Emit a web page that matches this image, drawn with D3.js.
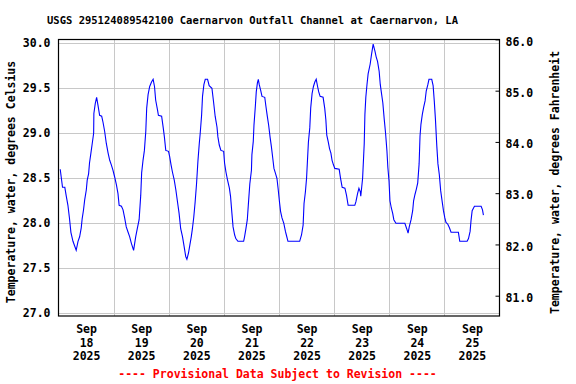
<!DOCTYPE html>
<html><head><meta charset="utf-8">
<script src="https://cdn.jsdelivr.net/npm/d3@7"></script>
<style>body{margin:0;background:#fff}svg{display:block}</style>
</head><body><svg id="c" width="576" height="384"></svg>
<script>
const titleText = "USGS 295124089542100 Caernarvon Outfall Channel at Caernarvon, LA";
const footerText = "---- Provisional Data Subject to Revision ----";
const leftAxisTitle = "Temperature, water, degrees Celsius";
const rightAxisTitle = "Temperature, water, degrees Fahrenheit";
const startDate = new Date(2025, 8, 18, 0, 0);
const endDate = new Date(2025, 8, 26, 0, 0);
const hoursFromStart = [0.75,1.25,1.75,2.75,3.4,4.1,4.8,5.4,6.3,7.0,7.7,8.5,9.2,9.9,10.3,10.9,11.4,12.1,12.5,13.1,13.5,14.0,14.7,15.3,15.4,16.0,16.6,17.2,17.9,18.8,19.4,20.1,20.8,21.6,22.3,23.0,23.7,24.4,25.2,25.9,26.4,27.4,28.1,28.8,29.5,30.3,31.0,31.7,32.7,33.6,34.3,35.1,35.8,36.2,36.8,37.4,38.0,38.4,39.0,39.7,40.5,41.2,41.8,42.3,43.1,43.5,44.9,45.6,46.1,46.7,47.9,48.4,49.0,49.6,50.4,51.1,51.8,52.5,53.2,54.0,54.7,55.4,55.9,56.6,57.2,57.8,58.3,58.9,59.5,60.1,60.7,61.3,61.7,62.3,62.7,63.3,63.9,64.9,65.6,66.8,67.5,68.2,69.0,69.4,70.0,70.7,71.9,72.3,72.9,73.6,74.4,74.9,75.5,76.0,76.7,77.2,78.1,80.6,81.0,81.6,82.2,82.8,83.3,84.0,84.2,84.8,85.1,85.7,86.1,86.6,87.0,87.4,88.0,88.6,89.8,90.3,90.9,91.5,92.1,92.7,93.3,93.8,94.4,95.1,95.6,96.2,96.7,97.3,98.1,98.8,99.2,99.9,105.0,105.8,106.5,106.9,107.5,108.0,108.4,108.8,109.4,109.8,110.4,111.0,111.6,112.2,112.8,113.3,113.9,115.2,115.9,116.4,116.8,117.4,118.0,118.6,119.1,119.7,120.3,122.2,122.8,123.5,124.7,125.4,126.1,129.0,129.5,130.2,130.8,131.4,131.6,132.4,133.1,133.4,133.8,134.3,134.8,135.7,136.3,137.0,137.8,138.3,138.9,139.6,140.1,140.7,141.2,141.8,142.4,143.0,143.4,143.9,144.3,144.9,145.5,146.0,146.9,150.8,151.6,152.2,152.7,153.5,154.2,154.6,155.2,155.8,156.4,157.0,157.4,157.8,158.4,159.0,159.6,160.1,160.8,161.3,162.5,163.1,163.6,164.1,164.7,165.2,165.8,166.4,167.0,167.6,168.2,168.7,169.5,170.2,170.9,174.1,174.7,177.9,178.5,179.2,179.6,180.1,180.7,181.1,184.0,184.6,185.0];
const tempC = [28.6,28.5,28.4,28.4,28.3,28.2,28.05,27.9,27.8,27.75,27.7,27.8,27.85,27.95,28.05,28.15,28.26,28.37,28.48,28.55,28.67,28.76,28.89,29.0,29.22,29.33,29.4,29.31,29.2,29.19,29.12,29.02,28.89,28.78,28.7,28.65,28.59,28.52,28.43,28.33,28.2,28.19,28.15,28.06,27.96,27.9,27.85,27.78,27.7,27.85,27.94,28.04,28.31,28.56,28.7,28.81,29.02,29.28,29.43,29.52,29.57,29.6,29.52,29.37,29.26,29.2,29.19,29.06,28.96,28.81,28.8,28.74,28.65,28.57,28.48,28.37,28.24,28.11,27.94,27.85,27.74,27.63,27.6,27.67,27.76,27.85,27.94,28.07,28.24,28.44,28.69,28.89,29.0,29.2,29.41,29.54,29.6,29.6,29.53,29.5,29.35,29.19,29.07,28.96,28.87,28.81,28.8,28.67,28.57,28.48,28.39,28.3,28.11,27.96,27.87,27.83,27.8,27.8,27.85,27.94,28.04,28.26,28.44,28.59,28.76,28.91,29.09,29.3,29.46,29.56,29.6,29.54,29.48,29.41,29.4,29.3,29.19,29.09,28.96,28.85,28.72,28.61,28.56,28.5,28.39,28.24,28.13,28.06,28.0,27.91,27.87,27.8,27.8,27.87,27.98,28.22,28.35,28.5,28.7,28.9,29.06,29.28,29.44,29.52,29.57,29.6,29.52,29.46,29.41,29.4,29.28,29.15,28.98,28.91,28.83,28.78,28.7,28.65,28.61,28.6,28.5,28.4,28.39,28.31,28.2,28.2,28.24,28.33,28.39,28.35,28.3,28.5,28.88,29.21,29.4,29.54,29.66,29.77,29.88,29.99,29.91,29.85,29.8,29.69,29.54,29.43,29.34,29.16,29.0,28.8,28.62,28.47,28.25,28.17,28.11,28.04,28.0,28.0,27.94,27.89,27.96,28.04,28.14,28.25,28.32,28.38,28.45,28.66,28.97,29.1,29.21,29.29,29.36,29.47,29.54,29.6,29.6,29.53,29.36,29.16,28.86,28.66,28.54,28.36,28.25,28.14,28.06,28.01,27.99,27.95,27.9,27.9,27.8,27.8,27.83,27.91,28.03,28.14,28.17,28.19,28.19,28.15,28.09];
const leftTicks = [27.0, 27.5, 28.0, 28.5, 29.0, 29.5, 30.0];
const rightTicks = [81, 82, 83, 84, 85, 86];
const tickMonth = "Sep";
const tickDays = ["18","19","20","21","22","23","24","25"];
const tickYear = "2025";

const FONT = "'DejaVu Sans Mono', 'Liberation Mono', monospace";
const svg = d3.select("#c");
const L = 58.5, R = 499.5, T = 39.5, B = 316;

const hourMs = 3600000;
const data = hoursFromStart.map((h, i) => ({ t: new Date(+startDate + h * hourMs), v: tempC[i] }));

const x = d3.scaleTime().domain([startDate, endDate]).range([L, R]);
const yL = d3.scaleLinear().domain([27, 30]).range([313.3, 43.3]);
const yR = d3.scaleLinear().domain([81, 86]).range([295.7, 39.4]);

// grid
const gridG = svg.append("g").attr("stroke", "#c8c8c8").attr("stroke-width", 1);
leftTicks.forEach(v => {
  const yy = Math.round(yL(v)) + 0.5;
  gridG.append("line").attr("x1", L).attr("x2", R).attr("y1", yy).attr("y2", yy);
});
const midnights = d3.timeDay.range(d3.timeDay.offset(startDate, 1), endDate);
midnights.forEach(d => {
  const xx = Math.round(x(d)) + 0.5;
  gridG.append("line").attr("x1", xx).attr("x2", xx).attr("y1", T).attr("y2", B);
});

// data line
svg.append("path").datum(data)
  .attr("fill", "none").attr("stroke", "#0000ff").attr("stroke-width", 1.1)
  .attr("d", d3.line().x(d => x(d.t)).y(d => yL(d.v)));

// frame
svg.append("rect").attr("x", L).attr("y", T).attr("width", R - L).attr("height", B - T)
  .attr("fill", "none").attr("stroke", "#000").attr("stroke-width", 1.2);

function styleText(g, size) {
  g.selectAll("text").attr("font-family", FONT).attr("font-weight", "bold")
    .attr("font-size", size).attr("fill", "#000");
  g.attr("font-family", null).attr("font-size", null);
}

// left axis
const gl = svg.append("g").attr("transform", `translate(${L},0)`)
  .call(d3.axisLeft(yL).tickValues(leftTicks).tickSize(0).tickPadding(8).tickFormat(d3.format(".1f")));
gl.select(".domain").remove();
styleText(gl, 11.5);

// right axis
const gr = svg.append("g").attr("transform", `translate(${R},0)`)
  .call(d3.axisRight(yR).tickValues(rightTicks).tickSizeInner(-4).tickSizeOuter(0).tickPadding(6).tickFormat(d3.format(".1f")));
gr.select(".domain").remove();
gr.selectAll(".tick line").attr("stroke", "#000");
gr.selectAll(".tick text").attr("y", 2);
styleText(gr, 11.5);

// bottom axis
const noonTicks = tickDays.map((d, i) => new Date(+startDate + (i * 24 + 12) * hourMs));
const gb = svg.append("g").attr("transform", `translate(0,${B})`)
  .call(d3.axisBottom(x).tickValues(noonTicks).tickSize(0).tickFormat(() => ""));
gb.select(".domain").remove();
gb.selectAll(".tick text").each(function(d, i) {
  const t = d3.select(this).attr("dy", null).attr("y", null);
  t.text(null);
  [tickMonth, tickDays[i], tickYear].forEach((s, k) => {
    t.append("tspan").attr("x", 0).attr("y", 17 + k * 13.5).text(s);
  });
});
styleText(gb, 11.5);

// title
svg.append("text").attr("x", 252.5).attr("y", 24).attr("text-anchor", "middle")
  .attr("font-family", FONT).attr("font-weight", "bold").attr("font-size", 10.5).text(titleText);

// axis titles
svg.append("text").attr("transform", "translate(15,182) rotate(-90)").attr("text-anchor", "middle")
  .attr("font-family", FONT).attr("font-weight", "bold").attr("font-size", 11.5).text(leftAxisTitle);
svg.append("text").attr("transform", "translate(559,182.5) rotate(-90)").attr("text-anchor", "middle")
  .attr("font-family", FONT).attr("font-weight", "bold").attr("font-size", 11.5).text(rightAxisTitle);

// footer
svg.append("text").attr("x", 277.5).attr("y", 378).attr("text-anchor", "middle")
  .attr("font-family", FONT).attr("font-weight", "bold").attr("font-size", 11.5)
  .attr("fill", "#ff0000").text(footerText);
</script></body></html>
